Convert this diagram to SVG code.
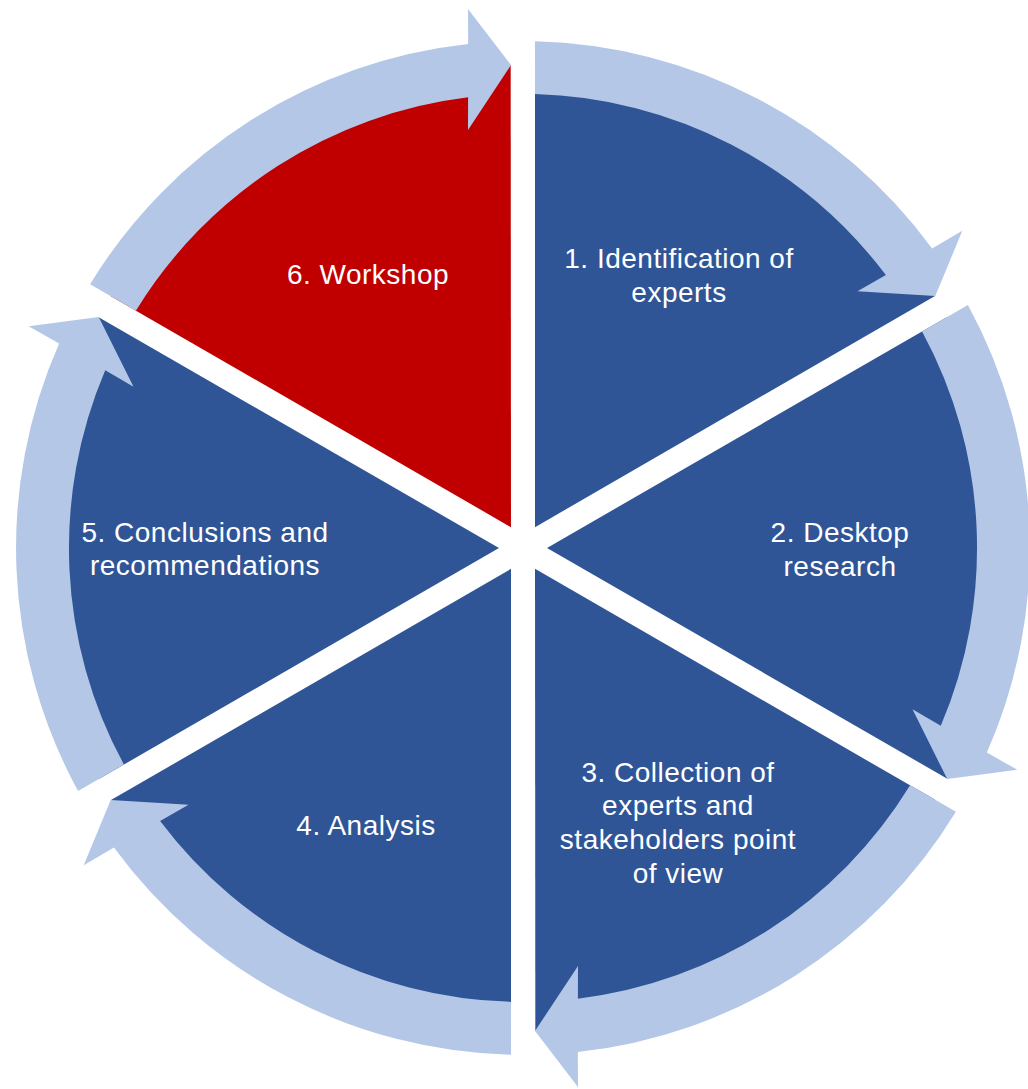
<svg xmlns="http://www.w3.org/2000/svg" xmlns:xlink="http://www.w3.org/1999/xlink" width="1028" height="1089" viewBox="0 0 1028 1089">
  <style>
    .step { fill: #2F5597; }
    .step.current { fill: #C00000; }
    .ring { fill: #B4C7E7; }
    .label { font-family: "Liberation Sans", Arial, sans-serif; font-size: 28px; letter-spacing: 0.5px; fill: #FFFFFF; text-anchor: middle; }
  </style>
  <defs>
    <!-- 60-degree pie slice (bearing 0..60) around centre 523,548, with 12px half-gaps -->
    <path id="wedge" d="M 535 527.2 L 535 65.15 A 483 483 0 0 1 935.0 295.9 Z"/>
    <!-- curved ring arrow running clockwise from bearing -60 to bearing 0 -->
    <path id="ringArrow" d="M 90.1 284.2 A 507 507 0 0 1 468.2 44.0 L 468 9 L 511 65 L 468 130 L 468.1 97.3 A 454 454 0 0 0 135.9 310.7 Z"/>
  </defs>

  <rect width="1028" height="1089" fill="#FFFFFF"/>

  <g id="step1">
    <use xlink:href="#wedge" href="#wedge" class="step"/>
    <text class="label" x="679" y="268">1. Identification of</text>
    <text class="label" x="679" y="302">experts</text>
  </g>
  <g id="step2">
    <use xlink:href="#wedge" href="#wedge" class="step" transform="rotate(60 523 548)"/>
    <text class="label" x="840" y="542">2. Desktop</text>
    <text class="label" x="840" y="576">research</text>
  </g>
  <g id="step3">
    <use xlink:href="#wedge" href="#wedge" class="step" transform="rotate(120 523 548)"/>
    <text class="label" x="678" y="782">3. Collection of</text>
    <text class="label" x="678" y="815">experts and</text>
    <text class="label" x="678" y="849">stakeholders point</text>
    <text class="label" x="678" y="883">of view</text>
  </g>
  <g id="step4">
    <use xlink:href="#wedge" href="#wedge" class="step" transform="rotate(180 523 548)"/>
    <text class="label" x="366" y="835">4. Analysis</text>
  </g>
  <g id="step5">
    <use xlink:href="#wedge" href="#wedge" class="step" transform="rotate(240 523 548)"/>
    <text class="label" x="205" y="542">5. Conclusions and</text>
    <text class="label" x="205" y="575">recommendations</text>
  </g>
  <g id="step6">
    <use xlink:href="#wedge" href="#wedge" class="step current" transform="rotate(300 523 548)"/>
    <text class="label" x="368" y="284">6. Workshop</text>
  </g>

  <g id="connectors">
    <use xlink:href="#ringArrow" href="#ringArrow" class="ring" transform="rotate(60 523 548)"/>
    <use xlink:href="#ringArrow" href="#ringArrow" class="ring" transform="rotate(120 523 548)"/>
    <use xlink:href="#ringArrow" href="#ringArrow" class="ring" transform="rotate(180 523 548)"/>
    <use xlink:href="#ringArrow" href="#ringArrow" class="ring" transform="rotate(240 523 548)"/>
    <use xlink:href="#ringArrow" href="#ringArrow" class="ring" transform="rotate(300 523 548)"/>
    <use xlink:href="#ringArrow" href="#ringArrow" class="ring"/>
  </g>
</svg>
